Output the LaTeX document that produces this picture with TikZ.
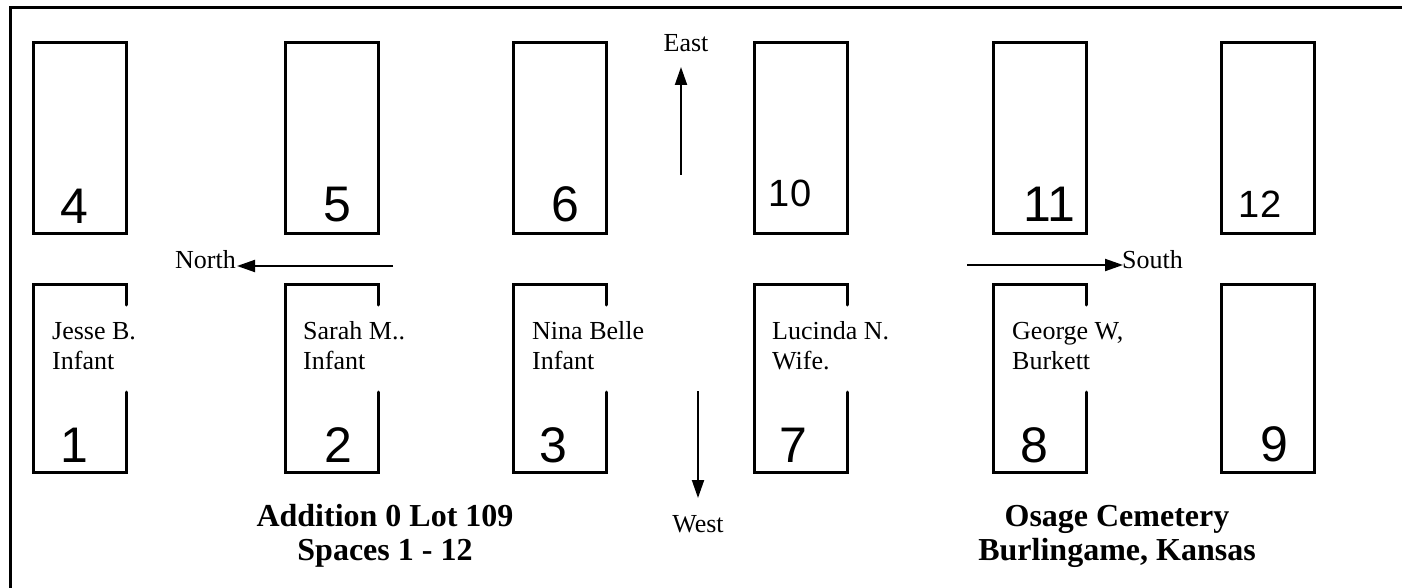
\documentclass[tikz,border=0pt]{standalone}
\usepackage{fontspec}
\setmainfont{Liberation Serif}
\newfontfamily\arialf{Liberation Sans}
\usetikzlibrary{arrows.meta}
\begin{document}
\begin{tikzpicture}[x=1pt,y=-1pt,
  frameline/.style={line width=3pt},
  plotline/.style={line width=3pt, line cap=round, line join=miter},
  numbig/.style={font=\arialf\fontsize{50}{50}\selectfont, anchor=base, inner sep=0pt},
  numsmall/.style={font=\arialf\fontsize{38}{38}\selectfont, anchor=base, inner sep=0pt},
  namelbl/.style={font=\fontsize{26}{30}\selectfont, anchor=base west, inner sep=0pt},
  dirlbl/.style={font=\fontsize{26}{30}\selectfont, inner sep=0pt},
  compass/.style={line width=2pt, -{Triangle[width=12pt,length=18pt]}},
  titlelbl/.style={font=\bfseries\fontsize{32}{34}\selectfont, anchor=base, inner sep=0pt}]
\useasboundingbox (0,0) rectangle (1402,588);
% frame
\draw[frameline] (10,588) -- (10,8) -- (1402,8);

% top row plots (full rectangles)
\foreach \x in {33,285,513,754,993,1221}{
  \draw[plotline] (\x,43) rectangle ++(93,190);
}
% bottom row plots with opening on right side
\foreach \x in {33,285,513,754,993}{
  \draw[plotline] (\x+93,305) -- (\x+93,284) -- (\x,284) -- (\x,472) -- (\x+93,472) -- (\x+93,392);
}
\draw[plotline] (1221,284) rectangle ++(93,188);

% plot numbers, top row
\node[numbig] (n4) at (74,223) {4};
\node[numbig] (n5) at (337,222) {5};
\node[numbig] (n6) at (565,222) {6};
\node[numsmall] (n10) at (790,207) {10};
\node[numbig] (n11) at (1049,222) {11};
\node[numsmall] (n12) at (1260,218) {12};
% plot numbers, bottom row
\node[numbig] (n1) at (74,462) {1};
\node[numbig] (n2) at (338,462) {2};
\node[numbig] (n3) at (553,462) {3};
\node[numbig] (n7) at (793,462) {7};
\node[numbig] (n8) at (1034,462) {8};
\node[numbig] (n9) at (1274,461) {9};

% names
\node[namelbl] (jesse) at (52,339) {\begin{tabular}[t]{@{}l@{}}Jesse B.\\Infant\end{tabular}};
\node[namelbl] (sarah) at (303,339) {\begin{tabular}[t]{@{}l@{}}Sarah M..\\Infant\end{tabular}};
\node[namelbl] (nina) at (532,339) {\begin{tabular}[t]{@{}l@{}}Nina Belle\\Infant\end{tabular}};
\node[namelbl] (lucinda) at (772,339) {\begin{tabular}[t]{@{}l@{}}Lucinda N.\\Wife.\end{tabular}};
\node[namelbl] (george) at (1012,339) {\begin{tabular}[t]{@{}l@{}}George W,\\Burkett\end{tabular}};

% compass
\node[dirlbl, anchor=base] (east) at (686,52) {East};
\node[dirlbl, anchor=base] (west) at (698,532) {West};
\node[dirlbl, anchor=base east] (north) at (236,268) {North};
\node[dirlbl, anchor=base west] (south) at (1122,268) {South};
\coordinate (estart) at (681,175);
\coordinate (etip) at (681,67);
\coordinate (wstart) at (698,391);
\coordinate (wtip) at (698,498);
\coordinate (nstart) at (393,266);
\coordinate (ntip) at (237,266);
\coordinate (sstart) at (967,265);
\coordinate (stip) at (1123,265);
\draw[compass] (estart) -- (etip);
\draw[compass] (wstart) -- (wtip);
\draw[compass] (nstart) -- (ntip);
\draw[compass] (sstart) -- (stip);

% titles
\node[titlelbl] (addition) at (385,526) {\begin{tabular}[t]{@{}c@{}}Addition 0 Lot 109\\Spaces 1 - 12\end{tabular}};
\node[titlelbl] (osage) at (1117,526) {\begin{tabular}[t]{@{}c@{}}Osage Cemetery\\Burlingame, Kansas\end{tabular}};
\end{tikzpicture}
\end{document}
